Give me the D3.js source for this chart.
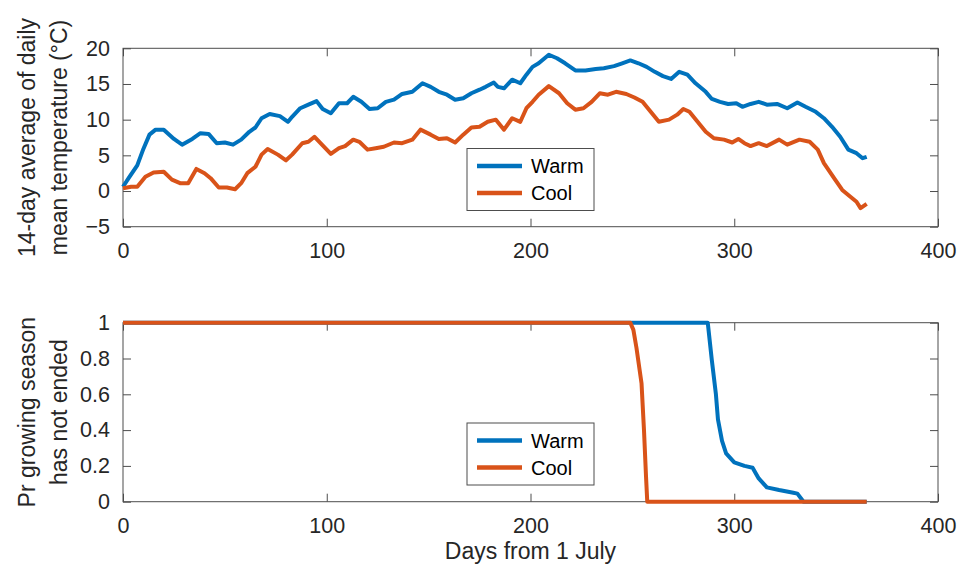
<!DOCTYPE html>
<html>
<head>
<meta charset="utf-8">
<script src="https://cdn.jsdelivr.net/npm/d3@7"></script>
<style>
  body { margin:0; background:#fff; }
  svg { display:block; font-family:"Liberation Sans", Arial, Helvetica, sans-serif; }
  .tick text { fill:#262626; font-size:21.5px; }
  .tick line { stroke:#4d4d4d; }
  .label { fill:#262626; font-size:23px; }
  .legend text { fill:#000; font-size:20px; }
</style>
</head>
<body>
<script>
// values, [day, value]
const seriesNames = ['Warm', 'Cool'];
const seriesColors = ['#0072BD', '#D95319'];

const warmTemp = [[0,0.6],[3,1.9],[7,3.6],[10,5.9],[13,7.9],[16,8.6],[20,8.6],[25,7.3],[29,6.5],[34,7.3],[38,8.1],[42,8.0],[46,6.7],[50,6.8],[54,6.5],[58,7.2],[62,8.3],[65,8.9],[68,10.2],[72,10.8],[77,10.5],[81,9.7],[83,10.4],[87,11.6],[91,12.1],[95,12.6],[98,11.5],[102,10.9],[106,12.3],[110,12.3],[113,13.2],[117,12.5],[121,11.5],[125,11.6],[129,12.5],[133,12.8],[137,13.6],[142,13.9],[147,15.1],[151,14.6],[155,13.9],[159,13.5],[163,12.8],[167,13.0],[171,13.7],[175,14.2],[178,14.6],[182,15.2],[184,14.6],[187,14.4],[191,15.6],[195,15.1],[198,16.3],[201,17.4],[204,17.9],[209,19.1],[213,18.6],[217,17.9],[222,16.9],[227,16.9],[232,17.1],[236,17.2],[241,17.5],[245,17.9],[249,18.3],[253,17.9],[257,17.4],[261,16.7],[265,16.1],[269,15.7],[273,16.7],[277,16.3],[281,15.1],[286,13.9],[289,12.9],[293,12.5],[297,12.2],[301,12.3],[304,11.8],[308,12.2],[312,12.5],[316,12.1],[321,12.2],[326,11.6],[331,12.4],[335,11.8],[340,11.1],[344,10.2],[348,9.0],[352,7.6],[356,5.8],[360,5.3],[363,4.6],[365,4.8]];

const coolTemp = [[0,0.4],[4,0.6],[7,0.6],[11,2.0],[15,2.6],[20,2.7],[24,1.6],[28,1.1],[32,1.1],[36,3.1],[40,2.5],[43,1.8],[47,0.5],[51,0.5],[55,0.25],[58,1.1],[61,2.5],[65,3.4],[68,5.1],[71,5.9],[76,5.1],[80,4.3],[83,5.1],[88,6.7],[91,6.9],[94,7.6],[98,6.4],[102,5.2],[106,6.0],[109,6.3],[113,7.2],[116,6.9],[120,5.8],[124,6.0],[128,6.2],[133,6.8],[137,6.7],[142,7.2],[146,8.6],[151,7.9],[155,7.3],[159,7.4],[163,6.8],[167,7.9],[171,8.9],[175,9.0],[179,9.7],[183,10.0],[187,8.6],[191,10.2],[195,9.7],[198,11.6],[201,12.5],[204,13.5],[209,14.7],[214,13.7],[218,12.3],[222,11.4],[226,11.6],[230,12.5],[234,13.7],[238,13.5],[242,13.9],[247,13.6],[251,13.1],[255,12.5],[259,11.1],[263,9.7],[268,10.0],[272,10.7],[275,11.5],[278,11.1],[282,9.7],[286,8.3],[290,7.4],[295,7.2],[299,6.8],[302,7.3],[305,6.7],[308,6.3],[312,6.7],[316,6.3],[322,7.2],[326,6.5],[332,7.2],[337,6.9],[341,5.8],[344,3.9],[349,1.8],[353,0.15],[357,-0.8],[360,-1.5],[362,-2.4],[365,-1.8]];

const warmProb = [[0,1],[287,1],[289,0.79],[291,0.6],[292,0.46],[294,0.34],[296,0.27],[300,0.22],[305,0.2],[309,0.19],[312,0.13],[316,0.08],[322,0.065],[329,0.05],[331,0.045],[334,0],[365,0]];
const coolProb = [[0,1],[249,1],[250.5,0.96],[252,0.86],[254.5,0.66],[255.7,0.4],[256.7,0.14],[257.3,0],[365,0]];

const xTicks = [0, 100, 200, 300, 400];
const tempTicks = [-5, 0, 5, 10, 15, 20];
const probTicks = [0, 0.2, 0.4, 0.6, 0.8, 1];

const width = 960, height = 565;
const left = 123, right = 938;

const svg = d3.select('body').append('svg')
    .attr('width', width)
    .attr('height', height);

const x = d3.scaleLinear().domain([0, 400]).range([left, right]);

function panel(top, bottom, yDomain, yTicks, series, labelLines, legendTop) {
    const y = d3.scaleLinear().domain(yDomain).range([bottom, top]);
    const g = svg.append('g');

    const axes = [
        [d3.axisBottom(x).tickValues(xTicks).tickPadding(16), `translate(0,${bottom})`],
        [d3.axisTop(x).tickValues(xTicks).tickFormat(''), `translate(0,${top})`],
        [d3.axisLeft(y).tickValues(yTicks).tickFormat(d3.format('')).tickPadding(13), `translate(${left},0)`],
        [d3.axisRight(y).tickValues(yTicks).tickFormat(''), `translate(${right},0)`]
    ];
    axes.forEach(([ax, tr]) => {
        g.append('g')
            .attr('transform', tr)
            .call(ax.tickSizeInner(-8).tickSizeOuter(0))
            .call(s => s.select('.domain').remove())
            .call(s => s.selectAll('text').attr('font-family', null).attr('font-size', null));
    });

    g.append('rect')
        .attr('x', left).attr('y', top)
        .attr('width', right - left).attr('height', bottom - top)
        .attr('fill', 'none').attr('stroke', '#4d4d4d').attr('stroke-width', 1);

    const line = d3.line().x(d => x(d[0])).y(d => y(d[1]));
    series.forEach((data, i) => {
        g.append('path')
            .datum(data)
            .attr('d', line)
            .attr('fill', 'none')
            .attr('stroke', seriesColors[i])
            .attr('stroke-width', 4)
            .attr('stroke-linejoin', 'round');
    });

    const mid = (top + bottom) / 2;
    labelLines.forEach((t, i) => {
        g.append('text')
            .attr('class', 'label')
            .attr('transform', `translate(${[35, 67][i]},${mid}) rotate(-90)`)
            .attr('text-anchor', 'middle')
            .text(t);
    });

    // legend box
    const lg = g.append('g').attr('class', 'legend').attr('transform', `translate(467,${legendTop})`);
    lg.append('rect')
        .attr('width', 127).attr('height', 62)
        .attr('fill', '#fff').attr('stroke', '#4d4d4d').attr('stroke-width', 1);
    seriesNames.forEach((n, i) => {
        const ly = 17.5 + i * 27;
        lg.append('line')
            .attr('x1', 10).attr('x2', 55)
            .attr('y1', ly).attr('y2', ly)
            .attr('stroke', seriesColors[i]).attr('stroke-width', 4.5);
        lg.append('text').attr('x', 64).attr('y', ly + 7).text(n);
    });
}

panel(48.3, 226.7, [-5, 20], tempTicks, [warmTemp, coolTemp],
    ['14-day average of daily', 'mean temperature (°C)'], 148.5);
panel(322.7, 501.7, [0, 1], probTicks, [warmProb, coolProb],
    ['Pr growing season', 'has not ended'], 423);

svg.append('text')
    .attr('class', 'label')
    .attr('x', (left + right) / 2)
    .attr('y', 559)
    .attr('text-anchor', 'middle')
    .text('Days from 1 July');
</script>
</body>
</html>
